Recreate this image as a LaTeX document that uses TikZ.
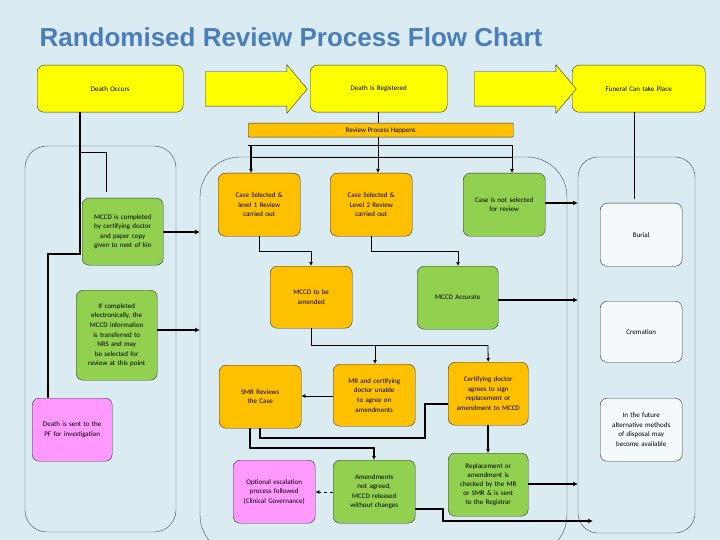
\documentclass[tikz,border=0pt]{standalone}
\usepackage{fontspec}
\setmainfont{Carlito}
\newfontfamily\titlefont{Liberation Sans}
\usetikzlibrary{arrows.meta,shapes.arrows}
\newcommand\myhy{\hyphenpenalty=10000\exhyphenpenalty=10000\relax}
\definecolor{bg}{HTML}{DAEBF1}
\definecolor{yel}{HTML}{FFFF00}
\definecolor{org}{HTML}{FFC000}
\definecolor{grn}{HTML}{92D050}
\definecolor{pnk}{HTML}{FF99FF}
\definecolor{wht}{HTML}{F4F9FB}
\definecolor{ttl}{HTML}{4A7EBB}
\tikzset{
  box/.style={draw=black!80,rounded corners=7pt,align=center,font=\fontsize{7}{9.6}\selectfont\myhy,inner sep=1pt},
  bx/.style args={#1/#2/#3/#4}{box,minimum width=#3pt-#1pt,minimum height=#4pt-#2pt,text width=#3pt-#1pt-20pt,anchor=north west,at={(#1,#2)}},
  panel/.style={draw=black!70,thin,fill=bg},
  con/.style={line width=0.8pt},
  thk/.style={line width=1.5pt,-{Latex[length=5pt,width=5pt]}},
  arr/.style={line width=0.8pt,-{Latex[length=4pt,width=4pt]}},
  big/.style={single arrow,draw=black!80,fill=yel,minimum height=102pt,inner xsep=0pt,inner ysep=17pt,single arrow head extend=7pt,single arrow tip angle=100}
}
\begin{document}
\begin{tikzpicture}[x=1pt,y=-1pt]
\fill[bg] (0,0) rectangle (720,540);
\useasboundingbox (0,0) rectangle (720,540);
\node[anchor=west,text=ttl,font=\titlefont\bfseries\fontsize{26}{28}\selectfont] (title) at (36,37) {Randomised Review Process Flow Chart};
% panels
\draw[panel,rounded corners=22pt] (25,146) rectangle (176,532);
\draw[panel,rounded corners=40pt] (200,157) rectangle (567,555);
\draw[panel,rounded corners=20pt] (578,157) rectangle (695,533);
% top
\node[bx=37/65/183/112,fill=yel] (occ) {Death Occurs};
\node[bx=310/65/447/112,fill=yel] (reg) {Death Is Registered};
\node[bx=572/65/705/112,fill=yel,text width=120pt] (fun) {Funeral Can take Place};
\node[big] (a1) at (249,89) {};
\node[big] (a2) at (518,89) {};
\node[draw=black!80,fill=org,minimum width=265pt,minimum height=14pt,inner sep=0pt,font=\fontsize{7}{8}\selectfont,anchor=north west,rounded corners=1pt] (rev) at (248,123) {Review Process Happens};
% left
\node[bx=82/198/163/265,fill=grn] (mccd) {MCCD is completed by certifying doctor and paper copy given to next of kin};
\node[bx=76/290/157/380,fill=grn] (elec) {If completed electronically, the MCCD information is transferred to NRS and may be selected for review at this point};
\node[bx=32/398/112/461,fill=pnk] (pf) {Death is sent to the PF for investigation};
% center
\node[bx=218/173/300/236,fill=org] (l1) {Case Selected \& level 1 Review carried out};
\node[bx=330/173/412/236,fill=org] (l2) {Case Selected \& Level 2 Review carried out};
\node[bx=463/173/545/236,fill=grn] (not) {Case is not selected for review};
\node[bx=270/266/352/328,fill=org] (amd) {MCCD to be amended};
\node[bx=417/266/498/329,fill=grn] (acc) {MCCD Accurate};
\node[bx=219/365/301/428,fill=org] (smr) {SMR Reviews the Case};
\node[bx=333/364/415/426,fill=org] (mr) {MR and certifying doctor unable to agree on amendments};
\node[bx=448/362/528/425,fill=org,text width=66pt] (cert) {Certifying doctor agrees to sign replacement or amendment to MCCD};
\node[bx=233/460/315/523,fill=pnk,text width=66pt] (opt) {Optional escalation process followed (Clinical Governance)};
\node[bx=333/460/415/523,fill=grn,text width=66pt] (nag) {Amendments not agreed, MCCD released without changes};
\node[bx=448/453/528/516,fill=grn,text width=64pt,font=\fontsize{7}{9.2}\selectfont\myhy] (rep) {Replacement or amendment is checked by the MR or SMR \& is sent to the Registrar};
% right
\node[bx=600/203/682/266,fill=wht] (bur) {Burial};
\node[bx=600/301/682/362,fill=wht] (cre) {Cremation};
\node[bx=600/398/682/461,fill=wht] (fut) {In the future alternative methods of disposal may become available};
\coordinate (lp1) at (200,232);
\coordinate (lp2) at (200,330);
\coordinate (rp1) at (578,203);
\coordinate (rp2) at (578,300);
\coordinate (rp3) at (578,484);
\coordinate (rp4) at (593,521);
% connectors
\draw[con] (378,112) -- (378,123);
\draw[con] (634,112) -- (634,199);
\draw[con] (248,145) -- (512,145);
\draw[con] (251,157) -- (512,157);
\draw[arr] (378,137) -- (l2.north -| 378,0);
\draw[arr,line width=1.3pt] (251,145) -- (l1.north -| 251,0);
\draw[arr] (512,145) -- (not.north -| 512,0);
\draw[line width=1.5pt] (80,112) -- (80,254) -- (48,254) -- (pf.north -| 48,0);
\draw[con] (80,152) -- (106,152) -- (106,192);
\draw[thk] (mccd.east |- 0,232) -- (lp1);
\draw[thk] (elec.east |- 0,330) -- (lp2);
\draw[arr] (259,236) -- (259,251) -- (311,251) -- (amd.north -| 311,0);
\draw[arr] (371,236) -- (371,251) -- (458,251) -- (acc.north -| 458,0);
\draw[con] (311,328) -- (311,345) -- (488,345);
\draw[arr] (375,345) -- (mr.north -| 375,0);
\draw[arr] (488,345) -- (cert.north);
\draw[arr] (mr.west |- 0,396) -- (smr.east |- 0,396);
\draw[line width=1.1pt] (260,428) -- (260,438) -- (425,438) -- (425,404) -- (cert.west |- 0,404);
\draw[arr,line width=1.1pt] (250,428) -- (250,448) -- (374,448) -- (nag.north -| 374,0);
\draw[arr,dashed] (nag.west |- 0,492) -- (opt.east |- 0,492);
\draw[arr,line width=1.3pt] (cert.south -| 488,0) -- (rep.north -| 488,0);
\draw[thk] (not.east |- 0,203) -- (rp1);
\draw[thk] (acc.east |- 0,300) -- (rp2);
\draw[thk] (rep.east |- 0,484) -- (rp3);
\draw[thk] (nag.east |- 0,509) -- (443,509) -- (443,521) -- (rp4);
\end{tikzpicture}
\end{document}
